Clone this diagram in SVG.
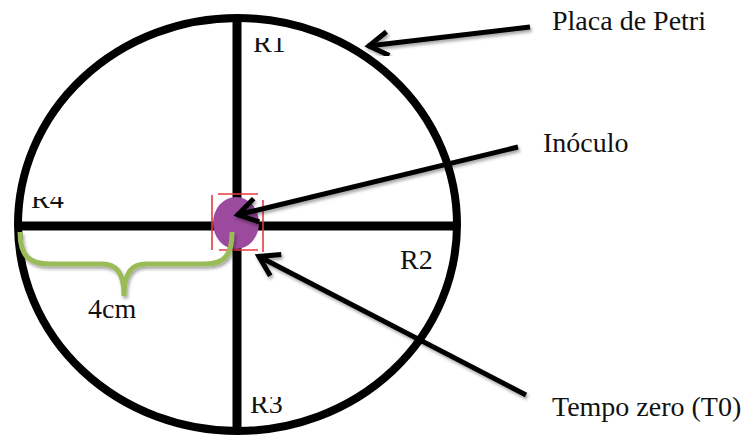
<svg xmlns="http://www.w3.org/2000/svg" width="746" height="436" viewBox="0 0 746 436">
<style>
  text { font-family: 'Liberation Serif', serif; font-size: 28px; fill: #111; }
  .thick { stroke: #000; stroke-width: 9; fill: none; }
  .arrow { stroke: #000; stroke-width: 5; fill: none; marker-end: url(#head); filter: url(#shadow); }
  .sel { stroke: #e8393f; stroke-width: 1.6; fill: none; }
</style>
<defs>
  <marker id="head" markerUnits="userSpaceOnUse" viewBox="-26 -16 30 32" refX="0" refY="0" markerWidth="30" markerHeight="32" orient="auto">
    <path d="M-20,-12 L-1,0 L-20,12" stroke="#000" stroke-width="5" fill="none" stroke-linejoin="miter"/>
  </marker>
  <filter id="shadow" x="-20%" y="-50%" width="140%" height="200%">
    <feDropShadow dx="1.5" dy="2.5" stdDeviation="1.5" flood-color="#000" flood-opacity="0.35"/>
  </filter>
  <clipPath id="clipR1"><rect x="240" y="38" width="60" height="30"/></clipPath>
  <clipPath id="clipR4"><rect x="20" y="197" width="60" height="20"/></clipPath>
  <clipPath id="clipR3"><rect x="240" y="397" width="60" height="24"/></clipPath>
</defs>
<rect width="746" height="436" fill="#fff"/>

<g id="placa">
  <ellipse cx="237.5" cy="224.5" rx="219.5" ry="206.5" stroke="#000" stroke-width="8" fill="none"/>
  <line class="thick" x1="237" y1="18" x2="237" y2="431"/>
  <line class="thick" x1="18" y1="226" x2="457" y2="226"/>
</g>

<g id="radii-labels">
  <text font-family="Liberation Serif, serif" x="253" y="52" clip-path="url(#clipR1)">R1</text>
  <text font-family="Liberation Serif, serif" x="400" y="269">R2</text>
  <text font-family="Liberation Serif, serif" x="250" y="413" clip-path="url(#clipR3)">R3</text>
  <text font-family="Liberation Serif, serif" x="31" y="208" clip-path="url(#clipR4)">R4</text>
</g>

<g id="inoculo">
  <ellipse cx="236" cy="223" rx="23" ry="26" fill="#9c4a9e"/>
  <line class="sel" x1="212" y1="195" x2="212" y2="250"/>
  <line class="sel" x1="263" y1="200" x2="263" y2="252"/>
  <line class="sel" x1="218" y1="194" x2="258" y2="194"/>
  <line class="sel" x1="219" y1="250" x2="258" y2="250"/>
</g>

<g id="medida">
  <path d="M20,232 C20,257 30,264 50,264 L102,264 C116,264 124,272 124,296 C124,272 132,264 146,264 L205,264 C224,264 232,256 232,232" stroke="#9bbb59" stroke-width="5" fill="none" filter="url(#shadow)"/>
  <text font-family="Liberation Serif, serif" x="88" y="318">4cm</text>
</g>

<g id="connectors">
  <line class="arrow" x1="530" y1="27" x2="368" y2="46"/>
  <line class="arrow" x1="518" y1="147" x2="237" y2="215"/>
  <line class="arrow" x1="526" y1="395" x2="258" y2="256"/>
</g>

<g id="texts">
  <text font-family="Liberation Serif, serif" x="552" y="30">Placa de Petri</text>
  <text font-family="Liberation Serif, serif" x="543" y="152">Inóculo</text>
  <text font-family="Liberation Serif, serif" x="552" y="416">Tempo zero (T0)</text>
</g>
</svg>
